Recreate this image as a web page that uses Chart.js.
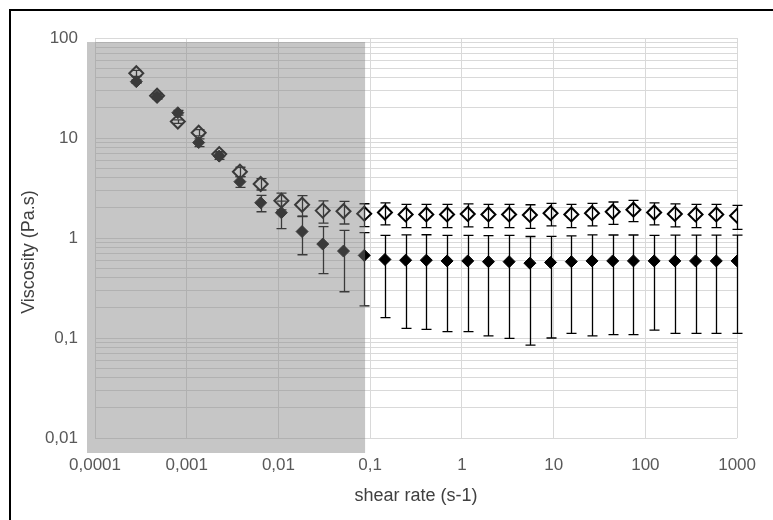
<!DOCTYPE html>
<html>
<head>
<meta charset="utf-8">
<script src="https://cdn.jsdelivr.net/npm/chart.js@4.4.1/dist/chart.umd.min.js"></script>
<style>
  html, body { margin: 0; padding: 0; background: #ffffff; }
  #wrap { position: relative; width: 773px; height: 520px; }
</style>
</head>
<body>
<div id="wrap"><canvas id="c" width="773" height="520"></canvas></div>
<script>
// Shear rate (s-1) of each measurement step
const shearRate = [0.000282, 0.000475, 0.0008, 0.00135, 0.00226, 0.0038, 0.0064, 0.01076, 0.0181, 0.0304,
                   0.0512, 0.0861, 0.1448, 0.2435, 0.409, 0.689, 1.158, 1.947, 3.27, 5.51,
                   9.26, 15.6, 26.2, 44.1, 74.1, 124.7, 209.6, 352.5, 593, 1000];

// Open diamonds: mean viscosity (Pa.s) and standard deviation
const viscosityOpen = [44.4, 26.5, 14.6, 11.3, 6.9, 4.6, 3.47, 2.36, 2.15, 1.88,
                       1.85, 1.75, 1.80, 1.72, 1.72, 1.72, 1.74, 1.72, 1.72, 1.70,
                       1.77, 1.72, 1.77, 1.83, 1.92, 1.80, 1.74, 1.72, 1.72, 1.67];
const viscosityOpenSd = [3.0, 1.5, 0.6, 0.8, 0.4, 0.5, 0.45, 0.45, 0.5, 0.47,
                         0.47, 0.45, 0.45, 0.45, 0.45, 0.45, 0.45, 0.45, 0.45, 0.45,
                         0.45, 0.45, 0.45, 0.46, 0.46, 0.45, 0.45, 0.45, 0.45, 0.45];

// Filled diamonds: mean viscosity (Pa.s) and standard deviation
const viscosityFilled = [36.6, 26.0, 17.9, 9.0, 6.6, 3.66, 2.25, 1.79, 1.16, 0.87,
                         0.74, 0.67, 0.61, 0.60, 0.60, 0.59, 0.59, 0.58, 0.58, 0.56,
                         0.57, 0.58, 0.59, 0.59, 0.59, 0.59, 0.59, 0.59, 0.59, 0.59];
const viscosityFilledSd = [1.5, 1.5, 1.0, 0.8, 0.5, 0.45, 0.42, 0.55, 0.48, 0.43,
                           0.45, 0.46, 0.45, 0.475, 0.478, 0.474, 0.474, 0.475, 0.481, 0.475,
                           0.47, 0.469, 0.485, 0.482, 0.482, 0.47, 0.479, 0.479, 0.479, 0.479];

// Axis ticks
const xTickValues = [0.0001, 0.001, 0.01, 0.1, 1, 10, 100, 1000];
const xTickLabels = ['0,0001', '0,001', '0,01', '0,1', '1', '10', '100', '1000'];
const yTickValues = [0.01, 0.1, 1, 10, 100];
const yTickLabels = ['0,01', '0,1', '1', '10', '100'];

// Shear rates below this limit are shaded
const shadedUpTo = 0.088;

const xTitle = 'shear rate (s-1)';
const yTitle = 'Viscosity (Pa.s)';

const FONT = "'Liberation Sans', Arial, sans-serif";
Chart.defaults.font.family = FONT;

// y grid: 1..9 per decade
const yGridValues = [];
for (let d = 0; d < yTickValues.length - 1; d++) {
  for (let m = 1; m <= 9; m++) yGridValues.push(+(m * yTickValues[d]).toPrecision(3));
}
yGridValues.push(yTickValues[yTickValues.length - 1]);

const toPoints = (vals) => shearRate.map((x, i) => ({ x: x, y: vals[i] }));

// Vertical error bars with caps, drawn from each dataset's "errors" array
const errorBars = {
  id: 'errorBars',
  afterDatasetsDraw(chart) {
    const ctx = chart.ctx;
    const ys = chart.scales.y;
    chart.data.datasets.forEach((ds, di) => {
      const meta = chart.getDatasetMeta(di);
      if (!ds.errors) return;
      ctx.save();
      ctx.strokeStyle = '#000000';
      ctx.lineWidth = 1.3;
      meta.data.forEach((el, i) => {
        const v = ds.data[i].y, e = ds.errors[i];
        const x = Math.round(el.x) + 0.5;
        const yTop = ys.getPixelForValue(v + e);
        const yBot = ys.getPixelForValue(Math.max(v - e, 1e-6));
        ctx.beginPath();
        ctx.moveTo(x, yTop); ctx.lineTo(x, yBot);
        ctx.moveTo(x - 5, yTop); ctx.lineTo(x + 5, yTop);
        ctx.moveTo(x - 5, yBot); ctx.lineTo(x + 5, yBot);
        ctx.stroke();
      });
      ctx.restore();
    });
  }
};

// Axis titles, frame and the shaded low-rate band
const decorations = {
  id: 'decorations',
  afterDraw(chart) {
    const ctx = chart.ctx;
    const ca = chart.chartArea;
    ctx.save();
    ctx.fillStyle = '#404040';
    ctx.font = '18px ' + FONT;
    ctx.textAlign = 'center';
    ctx.textBaseline = 'middle';
    ctx.fillText(xTitle, (ca.left + ca.right) / 2, ca.bottom + 58);
    ctx.translate(ca.left - 66, (ca.top + ca.bottom) / 2 + 14);
    ctx.rotate(-Math.PI / 2);
    ctx.fillText(yTitle, 0, 0);
    ctx.restore();

    // outer frame
    ctx.save();
    ctx.fillStyle = '#000000';
    ctx.fillRect(9, 9, 2, chart.height - 9);
    ctx.fillRect(9, 9, chart.width - 9, 2);
    ctx.restore();

    // translucent band over the low shear-rate range
    const right = chart.scales.x.getPixelForValue(shadedUpTo);
    const left = ca.left - 8;
    ctx.save();
    ctx.fillStyle = 'rgba(128,128,128,0.45)';
    ctx.fillRect(left, ca.top + 4, right - left, ca.bottom + 15 - (ca.top + 4));
    ctx.restore();
  }
};

new Chart(document.getElementById('c').getContext('2d'), {
  type: 'scatter',
  data: {
    datasets: [
      {
        label: 'filled',
        data: toPoints(viscosityFilled),
        errors: viscosityFilledSd,
        pointStyle: 'rectRot',
        pointRadius: 6,
        pointHoverRadius: 6,
        backgroundColor: '#000000',
        borderColor: '#000000',
        borderWidth: 1
      },
      {
        label: 'open',
        data: toPoints(viscosityOpen),
        errors: viscosityOpenSd,
        pointStyle: 'rectRot',
        pointRadius: 7,
        pointHoverRadius: 7,
        backgroundColor: 'rgba(0,0,0,0)',
        borderColor: '#000000',
        borderWidth: 2
      }
    ]
  },
  options: {
    responsive: false,
    animation: false,
    devicePixelRatio: 1,
    events: [],
    layout: { padding: { left: 0, right: 31, top: 38, bottom: 0 } },
    plugins: { legend: { display: false }, tooltip: { enabled: false } },
    scales: {
      x: {
        type: 'logarithmic',
        min: xTickValues[0],
        max: xTickValues[xTickValues.length - 1],
        afterBuildTicks: (s) => { s.ticks = xTickValues.map(v => ({ value: v })); },
        afterFit: (s) => { s.height = 82; },
        border: { display: false },
        grid: { color: '#d9d9d9', lineWidth: 1, drawTicks: false },
        ticks: {
          autoSkip: false, maxRotation: 0, minRotation: 0, padding: 17,
          color: '#595959', font: { size: 17 },
          callback: (v, i) => xTickLabels[i]
        }
      },
      y: {
        type: 'logarithmic',
        min: yTickValues[0],
        max: yTickValues[yTickValues.length - 1],
        afterBuildTicks: (s) => { s.ticks = yGridValues.map(v => ({ value: v })); },
        afterFit: (s) => { s.width = 95; },
        border: { display: false },
        grid: { color: '#d9d9d9', lineWidth: 1, drawTicks: false },
        ticks: {
          autoSkip: false, padding: 17,
          color: '#595959', font: { size: 17 },
          callback: (v) => {
            const k = yTickValues.findIndex(t => Math.abs(t - v) / t < 1e-6);
            return k >= 0 ? yTickLabels[k] : '';
          }
        }
      }
    }
  },
  plugins: [errorBars, decorations]
});
</script>
</body>
</html>
